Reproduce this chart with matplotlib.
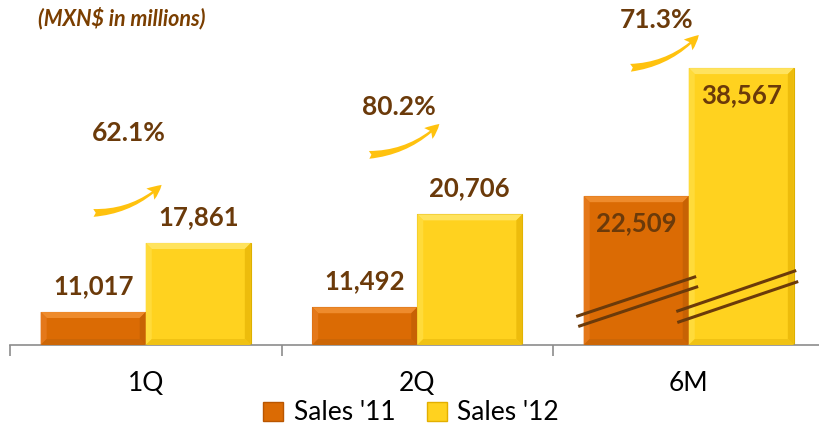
import matplotlib.pyplot as plt
from matplotlib.patches import Polygon, Patch, FancyArrowPatch
from matplotlib.lines import Line2D
from matplotlib.transforms import IdentityTransform

plt.rcParams['font.family'] = ['Lato', 'DejaVu Sans']

periods = ["1Q", "2Q", "6M"]
sales_11 = [11017, 11492, 22509]
sales_12 = [17861, 20706, 38567]
growth = ["62.1%", "80.2%", "71.3%"]
series_names = ["Sales '11", "Sales '12"]

BROWN = "#6B3A0A"
ORANGE = "#DB6B04"
YELLOW = "#FFD21F"

# values above the break are drawn compressed (axis break on the 6M bars)
BREAK_AT = 24000
BREAK_SCALE = 0.77


def shown(v):
    return v if v <= BREAK_AT else BREAK_AT + (v - BREAK_AT) * BREAK_SCALE


fig = plt.figure(figsize=(8.19, 4.26), dpi=100)
ax = fig.add_axes([10 / 819, 81 / 426, 814.5 / 819, 345 / 426])
ax.set_xlim(-0.5, 2.5)
ax.set_ylim(7744, 41970)

w = 0.387
x = list(range(len(periods)))
bars_11 = ax.bar([i - w / 2 for i in x], [shown(v) - 7744 for v in sales_11], w,
                 bottom=7744, color=ORANGE, edgecolor="#C45A00", linewidth=0.8)
bars_12 = ax.bar([i + w / 2 for i in x], [shown(v) - 7744 for v in sales_12], w,
                 bottom=7744, color=YELLOW, edgecolor="#DDB000", linewidth=0.8)

for s in ["top", "right", "left"]:
    ax.spines[s].set_visible(False)
ax.spines["bottom"].set_color("#8c8c8c")
ax.spines["bottom"].set_linewidth(1.2)
ax.set_yticks([])
ax.set_xticks(x)
ax.set_xticklabels(periods, fontsize=19)
ax.tick_params(axis="x", which="major", length=0, pad=19)
ax.set_xticks([-0.5, 0.5, 1.5, 2.5], minor=True)
ax.tick_params(axis="x", which="minor", length=8, width=1.2, color="#8c8c8c")

fig.canvas.draw()
to_px = ax.transData.transform


def bevel(rect, light, side, dark, bottom, b=6):
    (x0, y0) = to_px((rect.get_x(), rect.get_y()))
    (x1, y1) = to_px((rect.get_x() + rect.get_width(), rect.get_y() + rect.get_height()))
    faces = [
        ([(x0, y1), (x1, y1), (x1 - b, y1 - b), (x0 + b, y1 - b)], light),
        ([(x0, y0), (x0, y1), (x0 + b, y1 - b), (x0 + b, y0 + b)], side),
        ([(x1, y0), (x1, y1), (x1 - b, y1 - b), (x1 - b, y0 + b)], dark),
        ([(x0, y0), (x1, y0), (x1 - b, y0 + b), (x0 + b, y0 + b)], bottom),
    ]
    for pts, c in faces:
        ax.add_patch(Polygon(pts, closed=True, facecolor=c, edgecolor="none",
                             transform=IdentityTransform(), clip_on=False, zorder=3))


for r in bars_11:
    bevel(r, "#EE8B2C", "#E4781A", "#C76204", "#CC6606")
for r in bars_12:
    bevel(r, "#FFE35E", "#FFDB3A", "#EDBC0C", "#F0C214")

# value labels: above the bars for the quarters, inside for the half year
for i, (r11, r12) in enumerate(zip(bars_11, bars_12)):
    for rect, v in ((r11, sales_11[i]), (r12, sales_12[i])):
        top = rect.get_y() + rect.get_height()
        dy = 26 if i < 2 else -27
        ax.annotate("{:,}".format(v), (rect.get_x() + rect.get_width() / 2, top),
                    xytext=(0, dy), textcoords="offset pixels", ha="center",
                    va="center", fontsize=18.5, fontweight="bold", color=BROWN, zorder=5)

# growth labels with curved arrows
pct_x = [-0.063, -0.066, -0.118]
pct_y = [28776, 31355, 39986]
arrow_tail = [(-38, -80), (-33, -48), (-29, -48)]
arrow_head = [(35, -50), (42, -15), (44, -13)]
for i, g in enumerate(growth):
    ax.text(i + pct_x[i], pct_y[i], g, ha="center", va="center", fontsize=19,
            fontweight="bold", color=BROWN)
    cx, cy = to_px((i + pct_x[i], pct_y[i]))
    arr = FancyArrowPatch((cx + arrow_tail[i][0], cy + arrow_tail[i][1]),
                          (cx + arrow_head[i][0], cy + arrow_head[i][1]),
                          arrowstyle="fancy,head_length=0.75,head_width=0.7,tail_width=0.4",
                          connectionstyle="arc3,rad=0.2", mutation_scale=14,
                          color="#FFC20E", linewidth=0, transform=IdentityTransform(),
                          clip_on=False)
    ax.add_patch(arr)

# break marks across the 6M bars
for rect, offs in ((bars_11[2], [(-6, 29, 111, 68), (-4, 19, 113, 58)]),
                   (bars_12[2], [(-11, 34, 106, 74), (-10, 23, 108, 63)])):
    bx, by = to_px((rect.get_x(), rect.get_y()))
    for ax0, ay0, ax1, ay1 in offs:
        ax.add_line(Line2D([bx + ax0, bx + ax1], [by + ay0, by + ay1], color=BROWN,
                           linewidth=2.2, transform=IdentityTransform(),
                           clip_on=False, zorder=6))

fig.text(38 / 819, 1 - 18 / 426, "(MXN$ in millions)", ha="left", va="center",
         fontsize=15.5, fontweight="bold", fontstyle="italic", color="#7A3E00")

handles = [Patch(facecolor=ORANGE, edgecolor="#B95600"),
           Patch(facecolor=YELLOW, edgecolor="#E3AF00")]
fig.legend(handles, series_names, loc="center", bbox_to_anchor=(0.502, 1 - 413 / 426),
           ncol=2, frameon=False, fontsize=19, handlelength=0.75, handleheight=0.75,
           handletextpad=0.4, columnspacing=1.2, borderpad=0)

fig.savefig("out.png", dpi=100)
